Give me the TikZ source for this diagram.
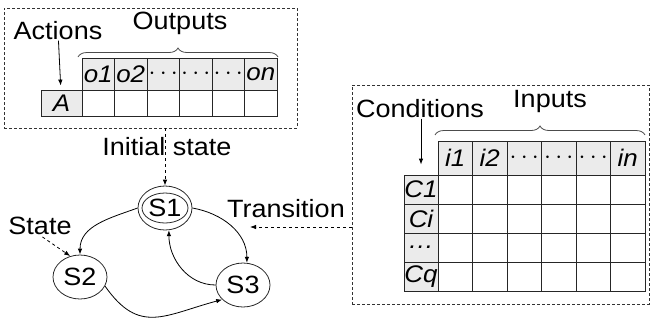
\documentclass[tikz,border=0pt]{standalone}
\usepackage{fontspec}
\setmainfont{Liberation Sans}[FakeStretch=1.08]
\usetikzlibrary{positioning,shapes.geometric,decorations.pathreplacing,arrows.meta}

\begin{document}
\begin{tikzpicture}[x=1pt, y=-1pt, line width=0.8pt,
  every node/.style = {inner sep=0pt, font=\fontsize{25}{28}\selectfont},
  box/.style = {draw=black!80, dash pattern=on 3pt off 2pt, minimum width=#1},
  cell/.style = {draw=black!85, minimum width=#1, font=\fontsize{24}{26}\selectfont\itshape},
  hcell/.style = {cell=#1, fill=black!8},
  lcell/.style = {hcell=#1, font=\fontsize{24}{26}\selectfont\itshape},
  state/.style = {ellipse, draw=black!85, fill=white, minimum width=54pt, minimum height=44pt},
  brc/.style = {decorate, decoration={brace, amplitude=9pt}, draw=black!70},
  tip/.style = {-{Latex[length=6pt,width=4.5pt]}}
    ]
  \useasboundingbox (0,0) rectangle (652,322);

  % action table
  \node[box=293pt, minimum height=120pt] (outbox) at (150.5,68) {};
  \node (actions) at (58,31) {Actions};
  \node (outputs) at (180,23) {Outputs};
  \draw[brc] (78,57) -- (278,57);
  \node[lcell=41pt, minimum height=26pt] (A) at (61.5,103) {A};
  \foreach \t [count=\i] in {o1,o2,$\cdots$,$\cdots$,$\cdots$,on} {
    \node[hcell=32.5pt, minimum height=32pt] (o\i) at (65.75+32.5*\i,74) {\t};
    \node[cell=32.5pt, minimum height=26pt] (a\i) at (65.75+32.5*\i,103) {};
  }
  \draw[tip] (actions) -- (A) [shorten >=4pt];

  % transition table
  \node[box=297pt, minimum height=219pt] (inbox) at (500.5,194.5) {};
  \node (cond) at (420,109) {Conditions};
  \node (inputs) at (550,101) {Inputs};
  \draw[brc] (435,135) -- (645,135);
  \foreach \t [count=\i] in {i1,i2,$\cdots$,$\cdots$,$\cdots$,in}
    \node[hcell=34.5pt, minimum height=34pt] (i\i) at (420.75+34.5*\i,158) {\t};
  \foreach \t [count=\r] in {C1,Ci,\ldots,Cq} {
    \node[lcell=34pt, minimum height=29pt] (c\r) at (421,160.5+29*\r) {\t};
    \foreach \i in {1,...,6}
      \node[cell=34.5pt, minimum height=29pt] (c\r\i) at (420.75+34.5*\i,160.5+29*\r) {};
  }
  \draw[tip, shorten >=10pt] (cond.south -| c1) -- (c1);

  % state machine
  \node[state] (S1) at (165,208) {S1};
  \draw[black!85] (S1.center) ellipse [x radius=23pt, y radius=15pt];
  \node[state] (S2) at (80,277) {S2};
  \node[state] (S3) at (243,285) {S3};
  \node (init) at (167,147) {Initial state};
  \node (statelbl) at (40,226) {State};
  \node (trans) at (286,209) {Transition};
  \coordinate (tr) at (250,227);

  \draw[tip, dashed] (S1.north |- outbox.south) -- (S1.north);
  \draw[tip, dashed, shorten <=3pt] (statelbl.south) -- (S2.115);
  \draw[tip, dashed] (inbox.west |- tr) -- (tr);
  \draw[tip] (S1.west) to[out=200, in=90] (S2.north);
  \draw[tip] (S1.east) to[out=-10, in=90] (S3.80);
  \draw[tip] (S3.west) to[out=180, in=-90] (S1.-80);
  \draw[tip] (S2.-20) to[out=-55, in=195, looseness=1.3] (S3.215);
\end{tikzpicture}
\end{document}
